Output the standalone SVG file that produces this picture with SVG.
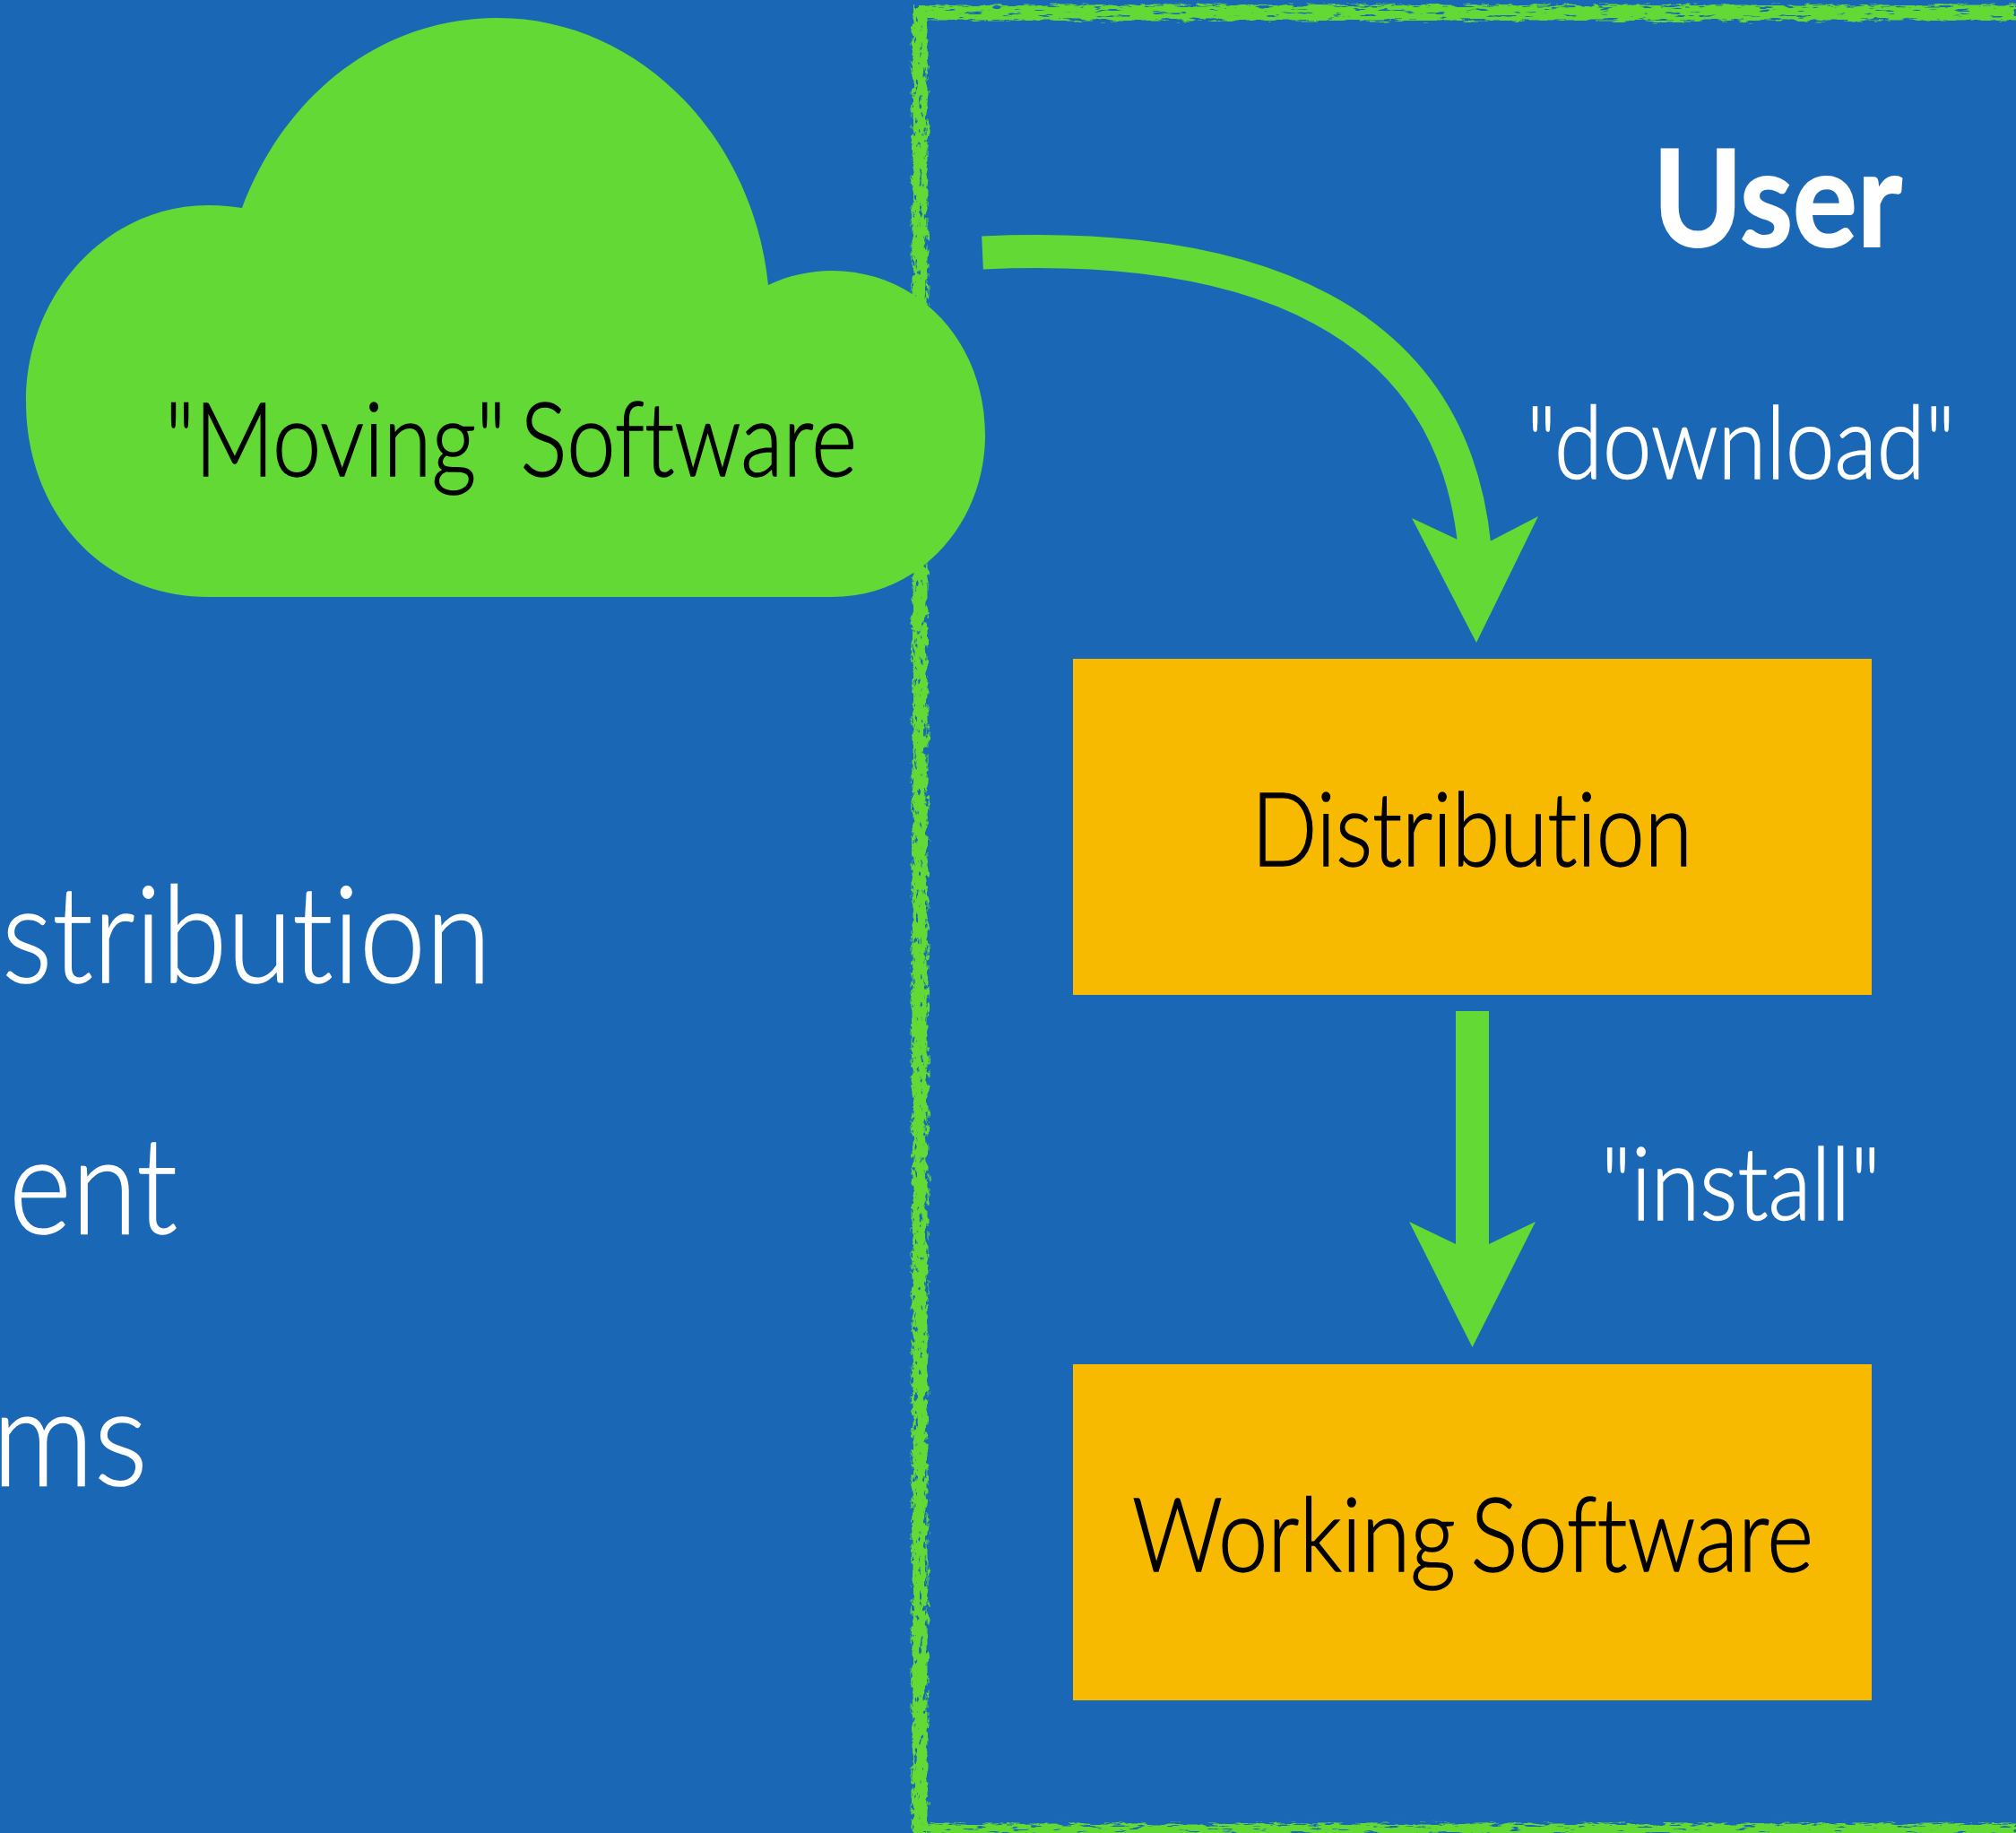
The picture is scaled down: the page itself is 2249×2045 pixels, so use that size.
<svg xmlns="http://www.w3.org/2000/svg" width="2249" height="2045" viewBox="0 0 2249 2045">
<style>
text{font-family:"Lato","Liberation Sans",sans-serif;font-weight:300;font-variant-ligatures:none;stroke-width:1.5}
.w{fill:#fff;stroke:#fff}.k{fill:#000;stroke:#000}
.two{word-spacing:-12px}
.box{fill:#f8ba00}
.g{fill:#62d935}
.shaft{fill:none;stroke:#62d935;stroke-width:37}
.chalk{fill:none;stroke:#62d935;stroke-width:17}
</style>
<defs>
<filter id="chalkH" filterUnits="userSpaceOnUse" x="1000" y="0" width="1249" height="2045" color-interpolation-filters="sRGB">
<feTurbulence type="fractalNoise" baseFrequency="0.05 0.3" numOctaves="3" seed="3" result="n"/>
<feDisplacementMap in="SourceGraphic" in2="n" scale="12" xChannelSelector="R" yChannelSelector="G" result="d"/>
<feColorMatrix in="n" type="matrix" values="0 0 0 0 0 0 0 0 0 0 0 0 0 0 0 0 10 0 0 -6.4" result="h"/>
<feComposite in="d" in2="h" operator="out"/>
</filter>
<filter id="chalkV" filterUnits="userSpaceOnUse" x="1000" y="0" width="60" height="2045" color-interpolation-filters="sRGB">
<feTurbulence type="fractalNoise" baseFrequency="0.2 0.09" numOctaves="3" seed="8" result="n"/>
<feDisplacementMap in="SourceGraphic" in2="n" scale="13" xChannelSelector="G" yChannelSelector="R" result="d"/>
<feColorMatrix in="n" type="matrix" values="0 0 0 0 0 0 0 0 0 0 0 0 0 0 0 0 10 0 0 -6.4" result="h"/>
<feComposite in="d" in2="h" operator="out"/>
</filter>
</defs>
<rect id="background" width="2249" height="2045" fill="#1a67b6"/>
<g id="user-frame">
<path class="chalk" filter="url(#chalkV)" d="M1026 8V2045"/>
<path class="chalk" filter="url(#chalkH)" d="M1026 14H2249M1026 2043H2249"/>
</g>
<g id="cloud">
<path class="g" d="M232 666C112 666 29 570 29 448C29 327 120 229 232 229C245 229 258 230 270 232C320 100 430 20 555 20C710 20 840 150 857 318C880 307 905 302 928 302C1025 302 1099 382 1099 485C1099 585 1025 666 928 666Z"/>
<text class="k two" x="184" y="531" font-size="114" textLength="772" lengthAdjust="spacingAndGlyphs">"Moving" Software</text>
</g>
<g id="user-title"><text class="w" x="1844" y="275" font-size="150" style="font-weight:700;stroke-width:2" textLength="278" lengthAdjust="spacingAndGlyphs">User</text></g>
<g id="distribution">
<rect class="box" x="1197" y="735" width="891" height="375"/>
<text class="k" x="1396" y="966" font-size="114" textLength="492" lengthAdjust="spacingAndGlyphs">Distribution</text>
</g>
<g id="working-software">
<rect class="box" x="1197" y="1522" width="891" height="375"/>
<text class="k two" x="1263" y="1753" font-size="114" textLength="760" lengthAdjust="spacingAndGlyphs">Working Software</text>
</g>
<g id="connectors">
<path class="shaft" d="M1096 282C1400 268 1620 355 1645 610"/>
<polygon class="g" points="1575,578 1626,602 1664,603 1716,576 1647,717"/>
<path class="shaft" d="M1642.500 1128V1395"/>
<polygon class="g" points="1572,1363 1624,1388 1661,1388 1713,1363 1642.500,1503"/>
</g>
<g id="labels">
<text class="w" x="1703" y="534" font-size="112" textLength="478" lengthAdjust="spacingAndGlyphs">"download"</text>
<text class="w" x="1786" y="1361" font-size="112" textLength="312" lengthAdjust="spacingAndGlyphs">"install"</text>
<text class="w" x="2" y="1096" font-size="150" textLength="546" lengthAdjust="spacingAndGlyphs">stribution</text>
<text class="w" x="10" y="1376" font-size="150" textLength="188" lengthAdjust="spacingAndGlyphs">ent</text>
<text class="w" x="-9" y="1657" font-size="150" textLength="174" lengthAdjust="spacingAndGlyphs">ms</text>
</g>
</svg>
